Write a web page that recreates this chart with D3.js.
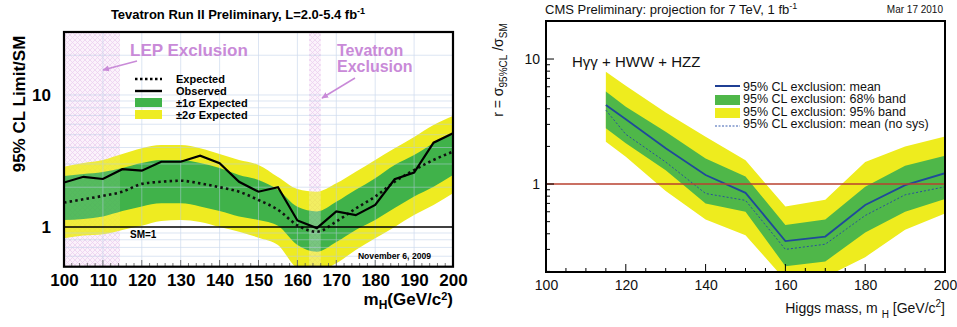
<!DOCTYPE html>
<html>
<head>
<meta charset="utf-8">
<script src="https://cdn.jsdelivr.net/npm/d3@7"></script>
<style>
    body { margin: 0; background: #fff; }
    text { font-family: "Liberation Sans", Arial, sans-serif; }
</style>
</head>
<body>
<svg id="chart" width="957" height="327"></svg>
<script>
// Tevatron (left) values
let tevMass = [100, 105, 110, 115, 120, 125, 130, 135, 140, 145, 150, 155, 160, 165, 170, 175, 180, 185, 190, 195, 200];
let tevObserved = [2.17, 2.4, 2.31, 2.74, 2.67, 3.12, 3.12, 3.47, 3.04, 2.2, 1.85, 2.0, 1.12, 0.98, 1.31, 1.23, 1.47, 2.3, 2.58, 4.35, 5.13];
let tevExpected = [1.53, 1.62, 1.72, 1.85, 2.12, 2.2, 2.24, 2.14, 2.0, 1.85, 1.6, 1.35, 1.03, 0.92, 1.1, 1.38, 1.7, 2.2, 2.7, 3.22, 3.72];
let tevOneSigmaHi = [2.43, 2.52, 2.61, 2.8, 3.05, 3.22, 3.22, 3.05, 2.8, 2.48, 2.27, 1.91, 1.42, 1.31, 1.55, 1.91, 2.34, 2.95, 3.51, 4.31, 5.13];
let tevOneSigmaLo = [1.13, 1.15, 1.2, 1.32, 1.43, 1.51, 1.51, 1.43, 1.32, 1.2, 1.13, 1.02, 0.73, 0.65, 0.77, 0.95, 1.13, 1.39, 1.7, 2.02, 2.48];
let tevTwoSigmaHi = [2.86, 3.05, 3.22, 3.57, 3.95, 4.18, 4.18, 3.95, 3.57, 3.22, 2.95, 2.39, 1.94, 1.85, 2.14, 2.62, 3.22, 3.95, 4.81, 5.93, 6.93];
let tevTwoSigmaLo = [0.82, 0.86, 0.88, 0.95, 1.02, 1.11, 1.13, 1.09, 1.0, 0.92, 0.83, 0.73, 0.49, 0.46, 0.53, 0.67, 0.82, 1.0, 1.23, 1.47, 1.8];
let tevXTicks = [100, 110, 120, 130, 140, 150, 160, 170, 180, 190, 200];
let tevYTicks = [1, 10];
let lepLimit = [100, 114.4];
let tevExclusion = [163, 166];

// CMS (right) values
let cmsMass = [115, 120, 130, 140, 150, 160, 170, 180, 190, 200];
let cmsMean = [4.29, 3.3, 1.93, 1.18, 0.85, 0.35, 0.38, 0.68, 0.98, 1.22];
let cmsNoSys = [3.9, 2.5, 1.5, 0.84, 0.74, 0.3, 0.33, 0.56, 0.82, 0.95];
let cms68Hi = [5.5, 4.15, 2.62, 1.6, 1.15, 0.47, 0.52, 0.95, 1.4, 1.68];
let cms68Lo = [2.79, 2.12, 1.29, 0.7, 0.6, 0.22, 0.24, 0.41, 0.6, 0.76];
let cms95Hi = [7.9, 6.1, 3.74, 2.39, 1.55, 0.66, 0.75, 1.5, 2.0, 2.4];
let cms95Lo = [2.18, 1.65, 0.88, 0.52, 0.39, 0.17, 0.18, 0.26, 0.43, 0.58];
let cmsXTicks = [100, 120, 140, 160, 180, 200];
let cmsYTicks = [1, 10];

let svg = d3.select('#chart');
let defs = svg.append('defs');

function minorLog(domain) {
    let out = [];
    for (let e = -1; e <= 1; e++)
        for (let k = 1; k <= 9; k++) {
            let v = k * Math.pow(10, e);
            if (v >= domain[0] - 1e-9 && v <= domain[1] + 1e-9 && k !== 1) out.push(v);
        }
    return out;
}

// ---------- left panel ----------
function drawTevatron() {
    let g = svg.append('g');
    let x = d3.scaleLinear().domain([100, 200]).range([64, 453]);
    let y = d3.scaleLog().domain([0.5, 30]).range([266.7, 32]);
    let rows = tevMass.map((m, i) => ({
        m: m, obs: tevObserved[i], exp: tevExpected[i],
        g1: tevOneSigmaHi[i], g0: tevOneSigmaLo[i], y1: tevTwoSigmaHi[i], y0: tevTwoSigmaLo[i]
    }));

    defs.append('clipPath').attr('id', 'clipL')
        .append('rect').attr('x', 64).attr('y', 32).attr('width', 389).attr('height', 234.7);
    let hatch = defs.append('pattern').attr('id', 'hatch')
        .attr('width', 5).attr('height', 5).attr('patternUnits', 'userSpaceOnUse');
    hatch.append('rect').attr('width', 5).attr('height', 5).attr('fill', '#fbf2fb');
    hatch.append('path').attr('d', 'M0,0L5,5M5,0L0,5')
        .attr('stroke', '#ecd0f0').attr('stroke-width', 0.8);

    let body = g.append('g').attr('clip-path', 'url(#clipL)');
    body.append('rect').attr('x', 64).attr('y', 32).attr('width', 389).attr('height', 234.7).attr('fill', '#fff');

    body.append('rect')
        .attr('x', x(lepLimit[0])).attr('width', x(lepLimit[1]) - x(lepLimit[0]))
        .attr('y', 32).attr('height', 235).attr('fill', 'url(#hatch)');
    body.append('rect')
        .attr('x', x(tevExclusion[0])).attr('width', x(tevExclusion[1]) - x(tevExclusion[0]))
        .attr('y', 32).attr('height', 235).attr('fill', 'url(#hatch)');

    body.append('path').datum(rows)
        .attr('fill', '#eeec22')
        .attr('d', d3.area().curve(d3.curveMonotoneX).x(d => x(d.m)).y0(d => y(d.y0)).y1(d => y(d.y1)));
    body.append('path').datum(rows)
        .attr('fill', '#40b34a')
        .attr('d', d3.area().curve(d3.curveMonotoneX).x(d => x(d.m)).y0(d => y(d.g0)).y1(d => y(d.g1)));

    // exclusion hatches over the bands, faint
    body.append('rect')
        .attr('x', x(lepLimit[0])).attr('width', x(lepLimit[1]) - x(lepLimit[0]))
        .attr('y', 32).attr('height', 235).attr('fill', 'url(#hatch)').attr('opacity', 0.12);
    body.append('rect')
        .attr('x', x(tevExclusion[0])).attr('width', x(tevExclusion[1]) - x(tevExclusion[0]))
        .attr('y', 32).attr('height', 235).attr('fill', 'url(#hatch)').attr('opacity', 0.3);

    // grid
    let grid = body.append('g').attr('stroke', '#b9cbe6').attr('stroke-width', 0.7).attr('opacity', 0.7);
    grid.selectAll('.vx').data(tevXTicks.slice(1, -1)).enter().append('line')
        .attr('x1', d => x(d)).attr('x2', d => x(d)).attr('y1', 32).attr('y2', 267);
    grid.selectAll('.hy').data(minorLog([0.5, 30]).concat([10])).enter().append('line')
        .attr('x1', 64).attr('x2', 453).attr('y1', d => y(d)).attr('y2', d => y(d));

    body.append('path').datum(rows)
        .attr('fill', 'none').attr('stroke', '#111').attr('stroke-width', 2.6)
        .attr('stroke-dasharray', '2.5,3.2')
        .attr('d', d3.line().curve(d3.curveMonotoneX).x(d => x(d.m)).y(d => y(d.exp)));
    body.append('path').datum(rows)
        .attr('fill', 'none').attr('stroke', '#000').attr('stroke-width', 2.2)
        .attr('d', d3.line().x(d => x(d.m)).y(d => y(d.obs)));

    // SM = 1
    g.append('line').attr('x1', 64).attr('x2', 453).attr('y1', y(1)).attr('y2', y(1))
        .attr('stroke', '#000').attr('stroke-width', 1.6);

    // axes
    let xAx = g.append('g').attr('transform', 'translate(0,266.7)')
        .call(d3.axisBottom(x).tickValues(tevXTicks).tickSize(0).tickPadding(7));
    xAx.select('.domain').remove();
    xAx.selectAll('text').attr('font-size', 17).attr('font-weight', 'bold')
        .attr('font-family', '"Liberation Sans", Arial, sans-serif');
    g.append('g').attr('stroke', '#555').attr('stroke-width', 0.8)
        .selectAll('line').data(d3.range(102, 200, 2)).enter().append('line')
        .attr('x1', d => x(d)).attr('x2', d => x(d))
        .attr('y1', 266.7).attr('y2', d => d % 10 === 0 ? 260 : 263);

    let yAx = g.append('g').attr('transform', 'translate(64,0)')
        .call(d3.axisLeft(y).tickValues(tevYTicks).tickFormat(d3.format('d')).tickSize(0).tickPadding(13));
    yAx.select('.domain').remove();
    yAx.selectAll('text').attr('font-size', 17).attr('font-weight', 'bold')
        .attr('font-family', '"Liberation Sans", Arial, sans-serif');

    g.append('rect').attr('x', 64).attr('y', 32).attr('width', 389).attr('height', 234.7)
        .attr('fill', 'none').attr('stroke', '#000').attr('stroke-width', 2.2);

    // texts
    let title = g.append('text').attr('x', 238).attr('y', 19).attr('text-anchor', 'middle')
        .attr('font-size', 13).attr('font-weight', 'bold');
    title.append('tspan').text('Tevatron Run II Preliminary, L=2.0-5.4 fb');
    title.append('tspan').attr('font-size', 9).attr('dy', -5).text('-1');

    g.append('text').attr('transform', 'translate(25,104) rotate(-90)')
        .attr('text-anchor', 'middle').attr('font-size', 17).attr('font-weight', 'bold')
        .text('95% CL Limit/SM');

    let xl = g.append('text').attr('x', 453).attr('y', 305).attr('text-anchor', 'end')
        .attr('font-size', 17).attr('font-weight', 'bold');
    xl.append('tspan').text('m');
    xl.append('tspan').attr('font-size', 12).attr('dy', 4).text('H');
    xl.append('tspan').attr('dy', -4).text('(GeV/c');
    xl.append('tspan').attr('font-size', 11).attr('dy', -5).text('2');
    xl.append('tspan').attr('dy', 5).text(')');

    g.append('text').attr('x', 130).attr('y', 238).attr('font-size', 10).attr('font-weight', 'bold').text('SM=1');
    g.append('text').attr('x', 431).attr('y', 259).attr('text-anchor', 'end')
        .attr('font-size', 8.6).attr('font-weight', 'bold').text('November 6, 2009');

    // exclusion labels
    let purple = '#c98ad8';
    defs.append('marker').attr('id', 'arrowP').attr('viewBox', '0 0 10 10')
        .attr('refX', 8).attr('refY', 5).attr('markerWidth', 5).attr('markerHeight', 5)
        .attr('orient', 'auto')
        .append('path').attr('d', 'M0,1L9,5L0,9z').attr('fill', purple);
    g.append('text').attr('x', 130).attr('y', 56).attr('font-size', 17).attr('font-weight', 'bold')
        .attr('fill', purple).text('LEP Exclusion');
    g.append('text').attr('x', 337).attr('y', 56).attr('font-size', 16).attr('font-weight', 'bold')
        .attr('fill', purple).text('Tevatron');
    g.append('text').attr('x', 337).attr('y', 72).attr('font-size', 16).attr('font-weight', 'bold')
        .attr('fill', purple).text('Exclusion');
    g.append('line').attr('x1', 137).attr('y1', 61).attr('x2', 103).attr('y2', 70)
        .attr('stroke', purple).attr('stroke-width', 1.5).attr('marker-end', 'url(#arrowP)');
    g.append('line').attr('x1', 355).attr('y1', 78).attr('x2', 322).attr('y2', 98)
        .attr('stroke', purple).attr('stroke-width', 1.5).attr('marker-end', 'url(#arrowP)');

    // legend
    let lg = g.append('g');
    lg.append('line').attr('x1', 135).attr('x2', 162).attr('y1', 79).attr('y2', 79)
        .attr('stroke', '#000').attr('stroke-width', 2.6).attr('stroke-dasharray', '2.5,2.5');
    lg.append('line').attr('x1', 135).attr('x2', 162).attr('y1', 91).attr('y2', 91)
        .attr('stroke', '#000').attr('stroke-width', 2.4);
    lg.append('rect').attr('x', 135).attr('y', 98).attr('width', 27).attr('height', 9).attr('fill', '#40b34a');
    lg.append('rect').attr('x', 135).attr('y', 110).attr('width', 27).attr('height', 9).attr('fill', '#eeec22');
    let labels = ['Expected', 'Observed', '\u00b11\u03c3 Expected', '\u00b12\u03c3 Expected'];
    lg.selectAll('.lt').data(labels).enter().append('text')
        .attr('x', 176).attr('y', (d, i) => 83 + i * 12)
        .attr('font-size', 11).attr('font-weight', 'bold').text(d => d);
}

// ---------- right panel ----------
function drawCms() {
    let g = svg.append('g');
    let x = d3.scaleLinear().domain([100, 200]).range([546, 945]);
    let y = d3.scaleLog().domain([0.2, 20]).range([271.4, 21.4]);
    let rows = cmsMass.map((m, i) => ({
        m: m, mean: cmsMean[i], nosys: cmsNoSys[i],
        g1: cms68Hi[i], g0: cms68Lo[i], y1: cms95Hi[i], y0: cms95Lo[i]
    }));

    defs.append('clipPath').attr('id', 'clipR')
        .append('rect').attr('x', 546).attr('y', 21.4).attr('width', 399).attr('height', 250);

    let body = g.append('g').attr('clip-path', 'url(#clipR)');
    body.append('path').datum(rows).attr('fill', '#eeec1e')
        .attr('d', d3.area().x(d => x(d.m)).y0(d => y(d.y0)).y1(d => y(d.y1)));
    body.append('path').datum(rows).attr('fill', '#4fb749')
        .attr('d', d3.area().x(d => x(d.m)).y0(d => y(d.g0)).y1(d => y(d.g1)));
    body.append('path').datum(rows).attr('fill', 'none')
        .attr('stroke', '#2b4f9e').attr('stroke-width', 1).attr('stroke-dasharray', '2,2')
        .attr('d', d3.line().x(d => x(d.m)).y(d => y(d.nosys)));
    body.append('path').datum(rows).attr('fill', 'none')
        .attr('stroke', '#1f4a9a').attr('stroke-width', 1.8)
        .attr('d', d3.line().x(d => x(d.m)).y(d => y(d.mean)));

    g.append('line').attr('x1', 546).attr('x2', 945).attr('y1', y(1)).attr('y2', y(1))
        .attr('stroke', '#b8412f').attr('stroke-width', 1.6);

    // axes with inside ticks
    let xAx = g.append('g').attr('transform', 'translate(0,272)')
        .call(d3.axisBottom(x).tickValues(cmsXTicks).tickSize(0).tickPadding(8));
    xAx.select('.domain').remove();
    xAx.selectAll('text').attr('font-size', 14).attr('fill', '#111')
        .attr('font-family', '"Liberation Sans", Arial, sans-serif');
    g.append('g').attr('stroke', '#000').attr('stroke-width', 1)
        .selectAll('line').data(d3.range(100, 201, 5)).enter().append('line')
        .attr('x1', d => x(d)).attr('x2', d => x(d))
        .attr('y1', 272).attr('y2', d => d % 20 === 0 ? 264 : 268);

    let yAx = g.append('g').attr('transform', 'translate(546,0)')
        .call(d3.axisLeft(y).tickValues(cmsYTicks).tickFormat(d3.format('d')).tickSize(0).tickPadding(6));
    yAx.select('.domain').remove();
    yAx.selectAll('text').attr('font-size', 14).attr('fill', '#111')
        .attr('font-family', '"Liberation Sans", Arial, sans-serif');
    g.append('g').attr('stroke', '#000').attr('stroke-width', 1)
        .selectAll('line').data(minorLog([0.2, 20]).concat(cmsYTicks)).enter().append('line')
        .attr('x1', 546).attr('x2', d => cmsYTicks.includes(d) ? 554 : 550)
        .attr('y1', d => y(d)).attr('y2', d => y(d));

    g.append('rect').attr('x', 546).attr('y', 21).attr('width', 399).attr('height', 251)
        .attr('fill', 'none').attr('stroke', '#000').attr('stroke-width', 2);

    let title = g.append('text').attr('x', 545).attr('y', 14).attr('font-size', 13).attr('fill', '#111');
    title.append('tspan').text('CMS Preliminary: projection for 7 TeV, 1 fb');
    title.append('tspan').attr('font-size', 9).attr('dy', -5).text('-1');
    g.append('text').attr('x', 943).attr('y', 13).attr('text-anchor', 'end')
        .attr('font-size', 10).attr('fill', '#111').text('Mar 17 2010');

    let yl = g.append('text').attr('transform', 'translate(503,70) rotate(-90)')
        .attr('text-anchor', 'middle').attr('font-size', 14).attr('fill', '#111');
    yl.append('tspan').text('r = \u03c3');
    yl.append('tspan').attr('font-size', 10).attr('dy', 4).text('95%CL');
    yl.append('tspan').attr('dy', -4).text(' /\u03c3');
    yl.append('tspan').attr('font-size', 10).attr('dy', 4).text('SM');

    let xl = g.append('text').attr('x', 945).attr('y', 313).attr('text-anchor', 'end')
        .attr('font-size', 14).attr('fill', '#111');
    xl.append('tspan').text('Higgs mass, m ');
    xl.append('tspan').attr('font-size', 10).attr('dy', 5).text('H');
    xl.append('tspan').attr('dy', -5).text(' [GeV/c');
    xl.append('tspan').attr('font-size', 10).attr('dy', -6).text('2');
    xl.append('tspan').attr('dy', 6).text(']');

    g.append('text').attr('x', 572).attr('y', 67).attr('font-size', 15).attr('fill', '#111')
        .text('H\u03b3\u03b3 + HWW + HZZ');

    // legend
    let lg = g.append('g');
    lg.append('line').attr('x1', 715).attr('x2', 740).attr('y1', 86).attr('y2', 86)
        .attr('stroke', '#1f3f94').attr('stroke-width', 2);
    lg.append('rect').attr('x', 715).attr('y', 95).attr('width', 25).attr('height', 10).attr('fill', '#4fb749');
    lg.append('rect').attr('x', 715).attr('y', 108).attr('width', 25).attr('height', 10).attr('fill', '#eeec1e');
    lg.append('line').attr('x1', 715).attr('x2', 740).attr('y1', 126).attr('y2', 126)
        .attr('stroke', '#3a5fb0').attr('stroke-width', 1).attr('stroke-dasharray', '2,1.5');
    let labels = ['95% CL exclusion: mean', '95% CL exclusion: 68% band',
        '95% CL exclusion: 95% band', '95% CL exclusion: mean (no sys)'];
    lg.selectAll('.lt').data(labels).enter().append('text')
        .attr('x', 743).attr('y', (d, i) => 91 + i * 12.3)
        .attr('font-size', 12.5).attr('fill', '#111').text(d => d);
}

drawTevatron();
drawCms();
</script>
</body>
</html>
